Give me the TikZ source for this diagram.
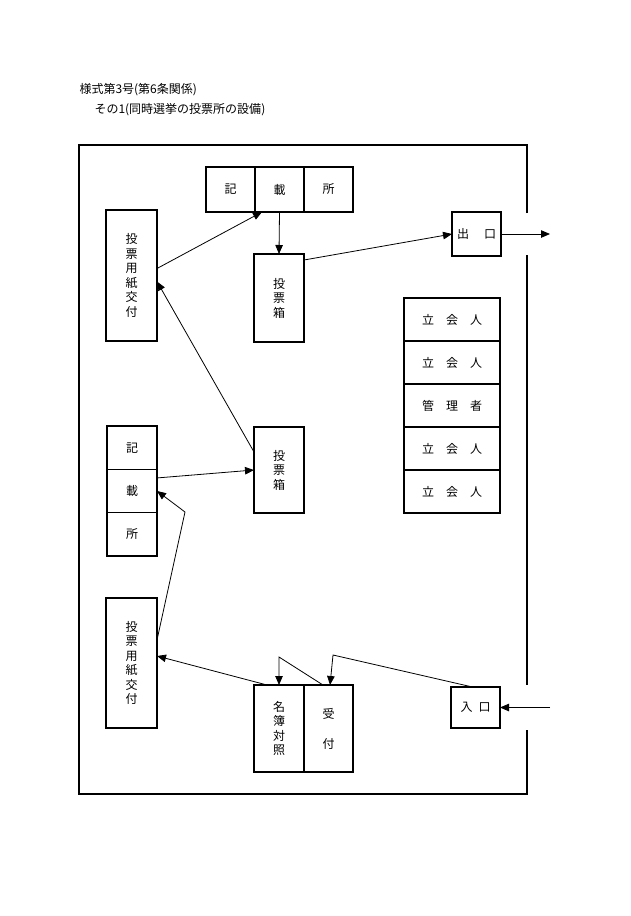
\documentclass[tikz,border=0pt]{standalone}
\usepackage{fontspec}
\setmainfont{Noto Sans CJK JP}
\usetikzlibrary{arrows.meta}
\tikzset{
  box/.style={draw,line width=1.2pt,inner sep=0pt,outer sep=0pt,anchor=north west,align=center,font=\fontsize{12}{14.5}\selectfont},
  link/.style={line width=0.8pt,-{Triangle[length=9pt,width=7.5pt]}},
  wall/.style={line width=1.2pt}
}
\begin{document}
\begin{tikzpicture}[x=1pt,y=-1pt,line cap=butt,line join=miter]
  \useasboundingbox (0,0) rectangle (630,916);
  \node[anchor=west,font=\fontsize{12}{14}\selectfont] (form) at (76,90) {様式第3号(第6条関係)};
  \node[anchor=west,font=\fontsize{12}{14}\selectfont] (sub) at (91,110) {その1(同時選挙の投票所の設備)};
  \draw[wall] (527,213) -- (527,145) -- (79,145) -- (79,794) -- (527,794) -- (527,730);
  \draw[wall] (527,255) -- (527,685);
  \node[box,minimum width=49pt,minimum height=45pt] (kiT1) at (206,167) {記};
  \node[box,minimum width=49pt,minimum height=45pt] (kiT2) at (255,167) {載};
  \node[box,minimum width=49pt,minimum height=45pt] (kiT3) at (304,167) {所};
  \node[box,minimum width=50pt,minimum height=88pt] (hakoT) at (254,254) {投\\票\\箱};
  \node[box,minimum width=49pt,minimum height=44pt] (deguchi) at (452,212) {出\hspace{15pt}口};
  \node[box,minimum width=51pt,minimum height=131pt] (koufuT) at (106,210) {投\\票\\用\\紙\\交\\付};
  \foreach \t [count=\i] in {立\hspace{12pt}会\hspace{12pt}人,立\hspace{12pt}会\hspace{12pt}人,管\hspace{12pt}理\hspace{12pt}者,立\hspace{12pt}会\hspace{12pt}人,立\hspace{12pt}会\hspace{12pt}人}
    \node[box,minimum width=96pt,minimum height=43pt] (tachi\i) at (404,255+43*\i) {\t};
  \node[box,minimum width=50pt,minimum height=43.3pt] (kiM1) at (107,426) {記};
  \node[box,minimum width=50pt,minimum height=43.3pt] (kiM2) at (107,469.3) {載};
  \node[box,minimum width=50pt,minimum height=43.3pt] (kiM3) at (107,512.6) {所};
  \node[box,minimum width=50pt,minimum height=86pt] (hakoM) at (254,427) {投\\票\\箱};
  \node[box,minimum width=51pt,minimum height=130pt] (koufuB) at (106,598) {投\\票\\用\\紙\\交\\付};
  \node[box,minimum width=50pt,minimum height=87pt] (meibo) at (254,685) {名\\簿\\対\\照};
  \node[box,minimum width=49pt,minimum height=87pt] (uketsuke) at (304,685) {受\\[15.5pt]付};
  \node[box,minimum width=49pt,minimum height=41pt] (iriguchi) at (451,687) {入\hspace{6pt}口};
  \coordinate (exit) at (550,234);
  \coordinate (entry) at (550,707.5);
  \coordinate (bendA) at (185,512);
  \coordinate (peakA) at (279,657);
  \coordinate (peakB) at (333,655);
  \draw[link] ([yshift=7pt]koufuT.east) -- ([xshift=7pt]kiT2.south west);
  \draw[link] (kiT2.south) -- (hakoT.north);
  \draw[link] ([yshift=-6pt]hakoT.north east) -- (deguchi.west);
  \draw[link] (deguchi.east) -- (exit);
  \draw[link] ([yshift=-25pt]hakoM.north west) -- ([yshift=-6pt]koufuT.east);
  \draw[link] ([yshift=13pt]kiM2.east) -- (hakoM.west);
  \draw[link] ([yshift=23pt]koufuB.east) -- (bendA) -- (kiM2.east);
  \draw[link] ([xshift=13pt]meibo.north west) -- ([yshift=7pt]koufuB.east);
  \draw[link] ([xshift=19pt]uketsuke.north west) -- (peakA) -- (meibo.north);
  \draw[link] ([xshift=-3pt]iriguchi.north) -- (peakB) -- ([xshift=26pt]uketsuke.north west);
  \draw[link] (entry) -- (iriguchi.east);
\end{tikzpicture}
\end{document}
